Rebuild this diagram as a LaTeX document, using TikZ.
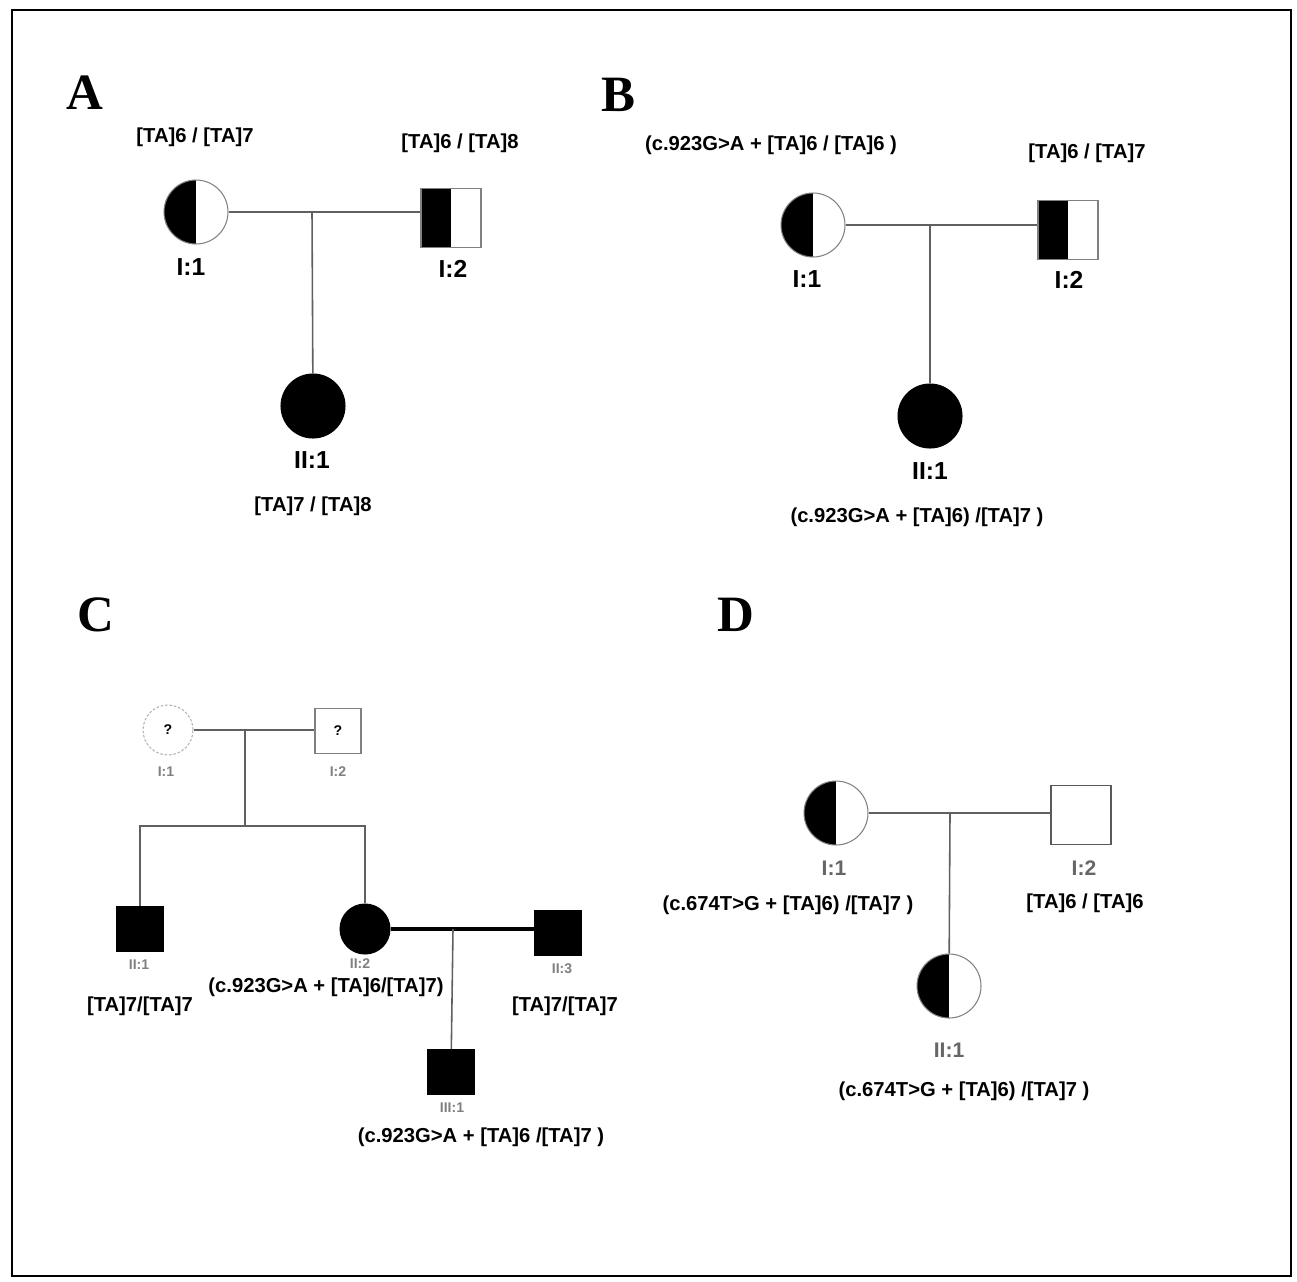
\documentclass[tikz,border=0pt]{standalone}
\usepackage{fontspec}
\setmainfont{Liberation Serif}
\setsansfont{Liberation Sans}
\usepackage{tikz}

\begin{document}
\begin{tikzpicture}[
  x=0.02cm, y=-0.02cm,
  fem/.style={circle, draw=gray, line width=0.6pt, minimum size=1.28cm, inner sep=0pt},
  mal/.style={rectangle, draw=gray, line width=0.8pt, minimum width=1.2cm,
              minimum height=1.18cm, inner sep=0pt},
  fsm/.style={fem, minimum size=1cm},
  msm/.style={mal, minimum width=0.92cm, minimum height=0.9cm},
  half/.style={path picture={\fill[black] (path picture bounding box.south west)
               rectangle (path picture bounding box.north);}},
  aff/.style={fill=black, draw=black},
  rel/.style={draw=gray!75!black, line width=0.9pt},
  geno/.style={font=\sffamily\bfseries\fontsize{11.5}{13}\selectfont},
  pid/.style={font=\sffamily\bfseries\fontsize{14}{16}\selectfont},
  sid/.style={font=\sffamily\bfseries\fontsize{8}{9}\selectfont, text=gray},
  did/.style={font=\sffamily\bfseries\fontsize{12}{14}\selectfont, text=gray!80!black},
  panel/.style={font=\rmfamily\bfseries\fontsize{29}{32}\selectfont}
]
\useasboundingbox (0,0) rectangle (1297,1281);
\draw[line width=1.4pt] (12,10) rectangle (1291,1276);

% Panel A
\node[panel] (pa) at (85,93) {A};
\node[fem, half] (a11) at (196,212) {};
\node[mal, half] (a12) at (451,218) {};
\node[fem, aff]  (a21) at (313,406) {};
\coordinate (ma) at (312,212);
\node[geno] (ga11) at (195,137) {[TA]6 / [TA]7};
\node[geno] (ga12) at (460,143) {[TA]6 / [TA]8};
\node[pid] (ia11) at (191,267) {I:1};
\node[pid] (ia12) at (453,269) {I:2};
\node[pid] (ia21) at (312,460) {II:1};
\node[geno] (ga21) at (313,506) {[TA]7 / [TA]8};

% Panel B
\node[panel] (pb) at (618,95) {B};
\node[fem, half] (b11) at (813,225) {};
\node[mal, half] (b12) at (1068,230) {};
\node[fem, aff]  (b21) at (930,416) {};
\coordinate (mb) at (930,225);
\node[geno] (gb11) at (771,145) {(c.923G>A + [TA]6 / [TA]6 )};
\node[geno] (gb12) at (1087,153) {[TA]6 / [TA]7};
\node[pid] (ib11) at (807,279) {I:1};
\node[pid] (ib12) at (1069,280) {I:2};
\node[pid] (ib21) at (930,471) {II:1};
\node[geno] (gb21) at (917,517) {(c.923G>A + [TA]6) /[TA]7 )};

% Panel C
\node[panel] (pc) at (96,615) {C};
\node[fsm, draw=gray!60, dash pattern=on 1.5pt off 1pt,
      font=\sffamily\bfseries\fontsize{8}{9}\selectfont] (c11) at (168,730) {?};
\node[msm, font=\sffamily\bfseries\fontsize{8}{9}\selectfont] (c12) at (338,731) {?};
\coordinate (mc1) at (245,730);
\coordinate (sc) at (245,826);
\coordinate (sc1) at (140,826);
\coordinate (sc2) at (365,826);
\node[msm, aff] (c21) at (140,929) {};
\node[fsm, aff] (c22) at (365,929) {};
\node[msm, aff] (c23) at (558,933) {};
\coordinate (mc2) at (453,929);
\node[msm, aff] (c31) at (451,1072) {};
\node[sid] (ic11) at (166,772) {I:1};
\node[sid] (ic12) at (338,772) {I:2};
\node[sid] (ic21) at (139,965) {II:1};
\node[sid] (ic22) at (360,964) {II:2};
\node[sid] (ic23) at (562,969) {II:3};
\node[sid] (ic31) at (452,1108) {III:1};
\node[geno] (gc21) at (140,1006) {[TA]7/[TA]7};
\node[geno] (gc22) at (326,987) {(c.923G>A + [TA]6/[TA]7)};
\node[geno] (gc23) at (565,1006) {[TA]7/[TA]7};
\node[geno] (gc31) at (481,1137) {(c.923G>A + [TA]6 /[TA]7 )};

% Panel D
\node[panel] (pd) at (736,615) {D};
\node[fem, half] (d11) at (836,813) {};
\node[mal, draw=gray!70!black, line width=1pt] (d12) at (1081,815) {};
\node[fem, half] (d21) at (949,986) {};
\coordinate (md) at (950,813);
\node[did] (id11) at (834,868) {I:1};
\node[did] (id12) at (1084,868) {I:2};
\node[did] (id21) at (949,1050) {II:1};
\node[geno] (gd11) at (788,905) {(c.674T>G + [TA]6) /[TA]7 )};
\node[geno] (gd12) at (1085,903) {[TA]6 / [TA]6};
\node[geno] (gd21) at (964,1091) {(c.674T>G + [TA]6) /[TA]7 )};

% lines
\draw[rel] (a11) -- (a11 -| a12.west);
\draw[rel] (ma) -- (a21);
\draw[rel] (b11) -- (b11 -| b12.west);
\draw[rel] (mb) -- (b21);
\draw[rel] (c11) -- (c11 -| c12.west);
\draw[rel] (mc1) -- (sc);
\draw[rel] (c21) -- (sc1) -- (sc2) -- (c22);
\draw[line width=2.2pt] (c22) -- (c22 -| c23.west);
\draw[rel] (mc2) -- (c31);
\draw[rel] (d11) -- (d11 -| d12.west);
\draw[rel] (md) -- (d21);
\end{tikzpicture}
\end{document}
